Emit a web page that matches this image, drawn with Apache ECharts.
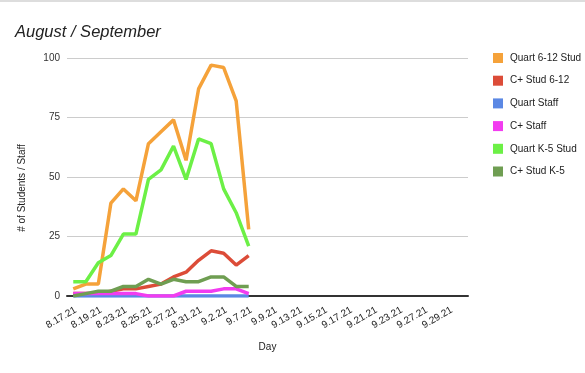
<!DOCTYPE html>
<html><head><meta charset="utf-8">
<script src="https://cdn.jsdelivr.net/npm/echarts@6/dist/echarts.min.js"></script>
<style>html,body{margin:0;padding:0;background:#fff}#c{width:585px;height:373px;border-top:2px solid #ddd;box-sizing:border-box}</style>
</head><body><div id="c"></div>
<script>
const categories = ["8.17.21","8.18.21","8.19.21","8.20.21","8.23.21","8.24.21","8.25.21","8.26.21","8.27.21","8.30.21","8.31.21","9.1.21","9.2.21","9.3.21","9.7.21","9.8.21","9.9.21","9.10.21","9.13.21","9.14.21","9.15.21","9.16.21","9.17.21","9.20.21","9.21.21","9.22.21","9.23.21","9.24.21","9.27.21","9.28.21","9.29.21","9.30.21"];
const quart612Stud = [3, 5, 5, 39, 45, 40, 64, 69, 74, 57, 87, 97, 96, 82, 28];
const cplusStud612 = [1, 1, 1, 2, 3, 3, 4, 5, 8, 10, 15, 19, 18, 13, 17];
const quartStaff = [0, 0, 0, 0, 0, 0, 0, 0, 0, 0, 0, 0, 0, 0, 0];
const cplusStaff = [1, 1, 1, 1, 1, 1, 0, 0, 0, 2, 2, 2, 3, 3, 1];
const quartK5Stud = [6, 6, 14, 17, 26, 26, 49, 53, 63, 49, 66, 64, 45, 35, 21];
const cplusStudK5 = [0, 1, 2, 2, 4, 4, 7, 5, 7, 6, 6, 8, 8, 4, 4];
const seriesNames = ["Quart 6-12 Stud","C+ Stud 6-12","Quart Staff","C+ Staff","Quart K-5 Stud","C+ Stud K-5"];
const seriesData = [quart612Stud, cplusStud612, quartStaff, cplusStaff, quartK5Stud, cplusStudK5];
const colors = ["#f5a23a","#dc4c38","#5b88e4","#f23cf0","#6cf046","#6f9e52"];
const yTicks = [0, 25, 50, 75, 100];

const chart = echarts.init(document.getElementById('c'));
chart.setOption({
  animation: false,
  textStyle: {fontFamily: 'Liberation Sans, Arial, sans-serif'},
  title: {text: 'August / September', left: 10, top: 17,
    textStyle: {fontSize: 16.5, fontStyle: 'italic', fontWeight: 'normal', color: '#222', fontFamily: 'Liberation Sans, Arial, sans-serif'}},
  color: colors,
  legend: {orient: 'vertical', left: 488, top: 46, itemWidth: 10, itemHeight: 10, itemGap: 12.7,
    icon: 'rect', textStyle: {fontSize: 10, color: '#222', padding: [0,0,0,2]},
    data: seriesNames},
  grid: {left: 67, right: 117, top: 56, bottom: 77},
  xAxis: {type: 'category', data: categories, boundaryGap: true,
    name: 'Day', nameLocation: 'middle', nameGap: 46, nameTextStyle: {fontSize: 10, color: '#222'},
    axisLine: {lineStyle: {color: '#333', width: 2}}, axisTick: {show: false},
    axisLabel: {interval: 1, rotate: 30, fontSize: 10, color: '#222', margin: 9, verticalAlign: 'top'}},
  yAxis: {type: 'value', min: yTicks[0], max: yTicks[yTicks.length-1], interval: 25,
    name: '# of Students / Staff', nameLocation: 'middle', nameGap: 40, nameTextStyle: {fontSize: 10, color: '#222', padding: [0, 22, 0, 0]},
    axisLine: {show: false}, axisTick: {show: false},
    axisLabel: {fontSize: 10, color: '#333', margin: 7},
    splitLine: {lineStyle: {color: '#ccc', width: 1}}},
  series: seriesNames.map((n, i) => ({
    name: n, type: 'line', data: seriesData[i], showSymbol: false, symbol: 'none',
    lineStyle: {width: 3.5, color: colors[i]}, itemStyle: {color: colors[i]}
  }))
});
</script></body></html>
